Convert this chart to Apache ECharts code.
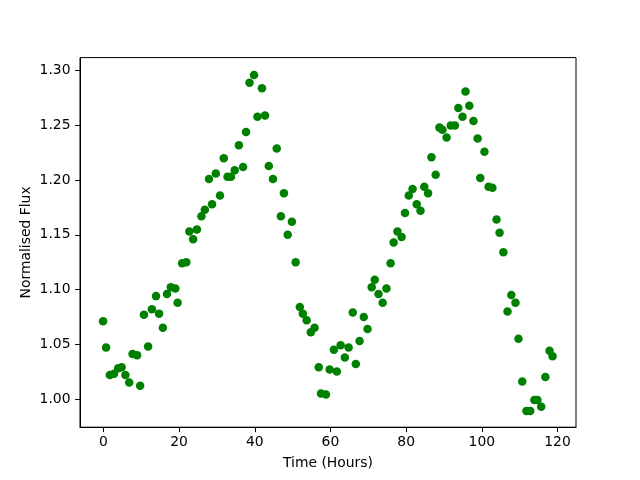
<!DOCTYPE html>
<html>
<head>
<meta charset="utf-8">
<script src="https://cdn.jsdelivr.net/npm/echarts@6/dist/echarts.min.js"></script>
<style>html,body{margin:0;padding:0;background:#fff}#c{width:640px;height:480px}</style>
</head>
<body>
<div id="c"></div>
<script>
const timeHours = [-0.1,0.7,1.7,2.8,3.9,4.8,5.8,6.8,7.7,8.9,9.7,10.7,11.8,12.8,13.9,14.7,15.7,16.8,17.8,19.0,19.6,20.8,21.9,22.7,23.7,24.7,25.9,26.8,27.9,28.7,29.7,30.8,31.8,32.8,33.7,34.7,35.8,36.9,37.7,38.6,39.8,40.7,41.9,42.7,43.7,44.8,45.8,46.9,47.7,48.7,49.8,50.8,51.9,52.7,53.7,54.8,55.8,56.9,57.5,58.8,59.8,60.9,61.7,62.7,63.8,64.8,65.9,66.7,67.7,68.8,69.8,70.9,71.7,72.7,73.8,74.8,75.9,76.7,77.7,78.8,79.7,80.7,81.7,82.8,83.8,84.8,85.8,86.7,87.8,88.8,89.6,90.7,91.8,92.9,93.8,94.9,95.7,96.7,97.8,98.9,99.6,100.7,101.8,102.8,103.9,104.7,105.7,106.8,107.8,108.9,109.7,110.7,111.8,112.8,113.9,114.7,115.7,116.8,117.9,118.7];
const normFlux = [1.071,1.047,1.022,1.023,1.028,1.029,1.022,1.015,1.041,1.040,1.012,1.077,1.048,1.082,1.094,1.078,1.065,1.096,1.102,1.101,1.088,1.124,1.125,1.153,1.146,1.155,1.167,1.173,1.201,1.178,1.206,1.186,1.220,1.203,1.203,1.209,1.232,1.212,1.244,1.289,1.296,1.258,1.284,1.259,1.213,1.201,1.229,1.167,1.188,1.150,1.162,1.125,1.084,1.078,1.072,1.061,1.065,1.029,1.005,1.004,1.027,1.045,1.025,1.049,1.038,1.047,1.079,1.032,1.053,1.075,1.064,1.102,1.109,1.096,1.088,1.101,1.124,1.143,1.153,1.148,1.170,1.186,1.192,1.178,1.172,1.194,1.188,1.221,1.205,1.248,1.246,1.239,1.250,1.250,1.266,1.258,1.281,1.268,1.254,1.238,1.202,1.226,1.194,1.193,1.164,1.152,1.134,1.080,1.095,1.088,1.055,1.016,0.989,0.989,0.999,0.999,0.993,1.020,1.044,1.039];
const xTicks = [0,20,40,60,80,100,120];
const yTicks = [1.00,1.05,1.10,1.15,1.20,1.25,1.30];

const points = timeHours.map((t,i)=>[t, normFlux[i]]);
const font = 'DejaVu Sans';
const chart = echarts.init(document.getElementById('c'), null, {renderer:'canvas'});
chart.setOption({
  animation:false,
  backgroundColor:'#fff',
  grid:{left:80,right:64,top:57.6,bottom:52.8,show:true,borderColor:'#000',borderWidth:1,backgroundColor:'transparent'},
  xAxis:{
    type:'value', min:-6.2, max:124.9,
    name:'Time (Hours)', nameLocation:'middle', nameGap:29.5, nameMoveOverlap:false,
    nameTextStyle:{fontFamily:font,fontSize:13.9,color:'#000'},
    axisLine:{show:true,onZero:false,lineStyle:{color:'#000',width:1}},
    axisTick:{show:true,length:4.9,lineStyle:{color:'#000'},customValues:xTicks},
    axisLabel:{fontFamily:font,fontSize:13.9,color:'#000',margin:8,customValues:xTicks,formatter:v=>String(v)},
    splitLine:{show:false}
  },
  yAxis:{
    type:'value', min:0.9742, max:1.312,
    name:'Normalised Flux', nameLocation:'middle', nameGap:47, nameRotate:90, nameMoveOverlap:false,
    nameTextStyle:{fontFamily:font,fontSize:13.9,color:'#000'},
    axisLine:{show:true,onZero:false,lineStyle:{color:'#000',width:1}},
    axisTick:{show:true,length:4.9,lineStyle:{color:'#000'},customValues:yTicks},
    axisLabel:{fontFamily:font,fontSize:13.9,color:'#000',margin:9.5,customValues:yTicks,formatter:v=>v.toFixed(2)},
    splitLine:{show:false}
  },
  series:[{
    type:'scatter', data:points, symbol:'circle', symbolSize:8.5,
    itemStyle:{color:'#008000',opacity:1}
  }]
});
</script>
</body>
</html>
